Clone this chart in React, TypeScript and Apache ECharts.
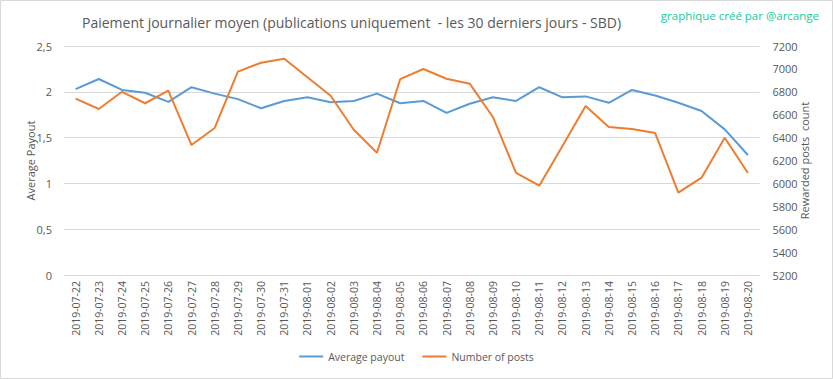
import React, { useEffect, useRef } from "react";
import * as echarts from "echarts";

const categories = [
  "2019-07-22", "2019-07-23", "2019-07-24", "2019-07-25", "2019-07-26", "2019-07-27",
  "2019-07-28", "2019-07-29", "2019-07-30", "2019-07-31", "2019-08-01", "2019-08-02",
  "2019-08-03", "2019-08-04", "2019-08-05", "2019-08-06", "2019-08-07", "2019-08-08",
  "2019-08-09", "2019-08-10", "2019-08-11", "2019-08-12", "2019-08-13", "2019-08-14",
  "2019-08-15", "2019-08-16", "2019-08-17", "2019-08-18", "2019-08-19", "2019-08-20",
];

const averagePayout = [
  2.03, 2.14, 2.02, 1.99, 1.89, 2.05, 1.98, 1.92, 1.82, 1.90,
  1.94, 1.885, 1.90, 1.98, 1.875, 1.90, 1.77, 1.87, 1.94, 1.90,
  2.05, 1.94, 1.95, 1.88, 2.02, 1.96, 1.88, 1.79, 1.59, 1.31,
];

const numberOfPosts = [
  6740, 6650, 6800, 6700, 6810, 6335, 6484, 6976, 7054, 7089,
  6927, 6766, 6469, 6268, 6910, 6999, 6914, 6871, 6580, 6091,
  5980, 6327, 6676, 6493, 6475, 6440, 5919, 6050, 6399, 6091,
];

const FONT = "Open Sans";
const TEXT = "#595959";

export default function App() {
  const ref = useRef<HTMLDivElement>(null);
  useEffect(() => {
    document.body.style.margin = "0";
    const chart = echarts.init(ref.current!, null, { renderer: "svg" });
    chart.setOption({
      animation: false,
      backgroundColor: "#ffffff",
      textStyle: { fontFamily: FONT },
      title: [
        {
          text: "Paiement journalier moyen (publications uniquement  - les 30 derniers jours - SBD)",
          left: 77,
          top: 10,
          textStyle: { fontFamily: FONT, fontSize: 14, fontWeight: "normal", color: TEXT },
        },
        {
          text: "graphique créé par @arcange",
          right: 9,
          top: 4,
          textStyle: { fontFamily: FONT, fontSize: 11.5, fontWeight: "normal", color: "#14cc9c" },
        },
      ],
      graphic: [
        {
          type: "rect",
          shape: { x: 0.5, y: 0.5, width: 832, height: 378 },
          style: { fill: "none", stroke: "#d9d9d9", lineWidth: 1 },
          silent: true,
        },
      ],
      legend: {
        bottom: 12,
        left: "center",
        itemWidth: 24,
        itemHeight: 2,
        itemGap: 18,
        icon: "rect",
        textStyle: { fontFamily: FONT, fontSize: 10.5, color: TEXT },
        data: ["Average payout", "Number of posts"],
      },
      grid: { left: 64, right: 73.5, top: 46, bottom: 104, containLabel: false },
      xAxis: {
        type: "category",
        data: categories,
        boundaryGap: true,
        axisLine: { lineStyle: { color: "#d9d9d9" } },
        axisTick: { show: false },
        axisLabel: { rotate: 90, interval: 0, fontFamily: FONT, fontSize: 10.5, color: TEXT, margin: 6 },
      },
      yAxis: [
        {
          type: "value",
          min: 0,
          max: 2.5,
          interval: 0.5,
          name: "Average Payout",
          nameLocation: "middle",
          nameGap: 28,
          nameRotate: 90,
          nameMoveOverlap: false,
          nameTextStyle: { fontFamily: FONT, fontSize: 11, color: TEXT },
          axisLine: { show: false },
          axisTick: { show: false },
          axisLabel: {
            fontFamily: FONT,
            fontSize: 11,
            color: TEXT,
            margin: 12,
            formatter: (v: number) => String(v).replace(".", ","),
          },
          splitLine: { lineStyle: { color: "#d9d9d9" } },
        },
        {
          type: "value",
          min: 5200,
          max: 7200,
          interval: 200,
          name: "Rewarded posts  count",
          nameLocation: "middle",
          nameGap: 39,
          nameRotate: 90,
          nameMoveOverlap: false,
          nameTextStyle: { fontFamily: FONT, fontSize: 11, color: TEXT },
          axisLine: { show: false },
          axisTick: { show: false },
          axisLabel: {
            fontFamily: FONT,
            fontSize: 11,
            color: TEXT,
            margin: 13,
            formatter: (v: number) => String(v),
          },
          splitLine: { show: false },
        },
      ],
      series: [
        {
          name: "Average payout",
          type: "line",
          yAxisIndex: 0,
          data: averagePayout,
          symbol: "none",
          lineStyle: { color: "#5b9bd5", width: 2 },
          itemStyle: { color: "#5b9bd5" },
        },
        {
          name: "Number of posts",
          type: "line",
          yAxisIndex: 1,
          data: numberOfPosts,
          symbol: "none",
          lineStyle: { color: "#ed7d31", width: 2 },
          itemStyle: { color: "#ed7d31" },
        },
      ],
    });
    return () => chart.dispose();
  }, []);
  return <div ref={ref} style={{ width: 833, height: 379 }} />;
}
